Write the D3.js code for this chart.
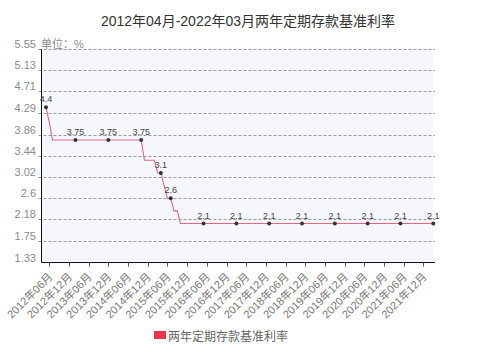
<!DOCTYPE html>
<html><head><meta charset="utf-8">
<script src="https://cdn.jsdelivr.net/npm/d3@7"></script>
<style>
html,body{margin:0;padding:0;background:#fff;}
svg text{font-family:"Liberation Sans",Arial,"Noto Sans CJK SC",sans-serif;}
</style></head>
<body><svg id="chart" width="500" height="357"></svg>
<script>
const titleText = "2012年04月-2022年03月两年定期存款基准利率";
const seriesName = "两年定期存款基准利率";
const unitText = "单位：%";
// monthly categories 2012-04 .. 2022-03
const startMonth = "2012-04", endMonth = "2022-03";
// monthly values (2012-04 has no point)
const rates = [
  null,4.4,4.1,3.75,3.75,3.75,3.75,3.75,3.75,                 // 2012 Apr-Dec
  3.75,3.75,3.75,3.75,3.75,3.75,3.75,3.75,3.75,3.75,3.75,3.75, // 2013
  3.75,3.75,3.75,3.75,3.75,3.75,3.75,3.75,3.75,3.75,3.35,3.35, // 2014
  3.35,3.35,3.1,3.1,2.85,2.6,2.6,2.35,2.35,2.1,2.1,2.1,        // 2015
  2.1,2.1,2.1,2.1,2.1,2.1,2.1,2.1,2.1,2.1,2.1,2.1,             // 2016
  2.1,2.1,2.1,2.1,2.1,2.1,2.1,2.1,2.1,2.1,2.1,2.1,             // 2017
  2.1,2.1,2.1,2.1,2.1,2.1,2.1,2.1,2.1,2.1,2.1,2.1,             // 2018
  2.1,2.1,2.1,2.1,2.1,2.1,2.1,2.1,2.1,2.1,2.1,2.1,             // 2019
  2.1,2.1,2.1,2.1,2.1,2.1,2.1,2.1,2.1,2.1,2.1,2.1,             // 2020
  2.1,2.1,2.1,2.1,2.1,2.1,2.1,2.1,2.1,2.1,2.1,2.1,             // 2021
  2.1,2.1,2.1                                                  // 2022 Jan-Mar
];
// months that carry a dot + value label
const markerMonths = ["2012-05","2013-02","2013-12","2014-10","2015-04","2015-07",
  "2016-05","2017-03","2018-01","2018-11","2019-09","2020-07","2021-05","2022-03"];
const tickMonths = ["2012-06","2012-12","2013-06","2013-12","2014-06","2014-12","2015-06","2015-12",
  "2016-06","2016-12","2017-06","2017-12","2018-06","2018-12","2019-06","2019-12",
  "2020-06","2020-12","2021-06","2021-12"];
const tickLabels = ["2012年06月","2012年12月","2013年06月","2013年12月","2014年06月","2014年12月",
  "2015年06月","2015年12月","2016年06月","2016年12月","2017年06月","2017年12月","2018年06月",
  "2018年12月","2019年06月","2019年12月","2020年06月","2020年12月","2021年06月","2021年12月"];
const yTicks = [1.33,1.75,2.18,2.6,3.02,3.44,3.86,4.29,4.71,5.13,5.55];

const fmt = d3.timeFormat("%Y-%m"), parse = d3.timeParse("%Y-%m");
const months = d3.timeMonths(parse(startMonth), d3.timeMonth.offset(parse(endMonth),1)).map(fmt);
const data = months.map((m,i)=>({m, v: rates[i]}));

const svg = d3.select("#chart");
const L = 41.5, R = 433.5, T = 49, B = 262.5;
const x = d3.scalePoint().domain(months).range([42.7, 433.3]);
const y = d3.scaleLinear().domain([1.33, 5.55]).range([B, T]);

// background
svg.append("rect").attr("x", L).attr("y", T-1).attr("width", R-L).attr("height", B-T+1).attr("fill", "#f6f7fd");

// title
svg.append("text").attr("x", 248).attr("y", 26).attr("text-anchor","middle")
  .attr("font-size", 14).attr("fill", "#333").text(titleText);

// gridlines
svg.append("g").selectAll("line").data(yTicks.filter(t=>t!==1.33)).join("line")
  .attr("x1", L-3).attr("x2", 435).attr("y1", d=>Math.round(y(d))+0.5).attr("y2", d=>Math.round(y(d))+0.5)
  .attr("stroke", "#9a9a9a").attr("stroke-dasharray", "3,2").attr("stroke-width", 1);

// y labels
svg.append("g").selectAll("text").data(yTicks).join("text")
  .attr("x", 36).attr("y", d=>y(d)-1).attr("text-anchor","end")
  .attr("font-size", 11).attr("fill", "#8a8a8a").text(d=>String(d));
svg.append("text").attr("x", 41).attr("y", y(5.55)-1).attr("font-size", 11).attr("fill", "#8a8a8a").text(unitText);

// axes lines
svg.append("line").attr("x1", L).attr("x2", L).attr("y1", T).attr("y2", B).attr("stroke", "#111");
svg.append("line").attr("x1", L).attr("x2", 435).attr("y1", B).attr("y2", B).attr("stroke", "#111");

// x ticks & labels
const xt = svg.append("g");
xt.selectAll("line").data(tickMonths).join("line")
  .attr("x1", d=>Math.round(x(d))+0.5).attr("x2", d=>Math.round(x(d))+0.5)
  .attr("y1", B).attr("y2", B+4).attr("stroke", "#555");
xt.selectAll("text").data(tickMonths).join("text")
  .attr("transform", d=>`translate(${x(d)+4},${B+15}) rotate(-45)`)
  .attr("text-anchor","end").attr("font-size", 11).attr("fill", "#777")
  .text((d,i)=>tickLabels[i]);

// line
const line = d3.line().defined(d=>d.v!=null).x(d=>x(d.m)).y(d=>y(d.v));
svg.append("path").datum(data).attr("d", line).attr("fill","none")
  .attr("stroke", "#e06880").attr("stroke-width", 1.1);

// markers
const mk = data.filter(d=>markerMonths.includes(d.m));
svg.append("g").selectAll("circle").data(mk).join("circle")
  .attr("cx", d=>x(d.m)).attr("cy", d=>y(d.v)).attr("r", 2).attr("fill", "#333");
svg.append("g").selectAll("text").data(mk).join("text")
  .attr("x", d=>x(d.m)).attr("y", d=>y(d.v)-5).attr("text-anchor","middle")
  .attr("font-size", 9).attr("fill", "#444").text(d=>String(d.v));

// legend
svg.append("rect").attr("x", 154).attr("y", 331).attr("width", 12).attr("height", 8).attr("fill", "#e8334a");
svg.append("text").attr("x", 168).attr("y", 341).attr("font-size", 12).attr("fill", "#666").text(seriesName);
</script></body></html>
